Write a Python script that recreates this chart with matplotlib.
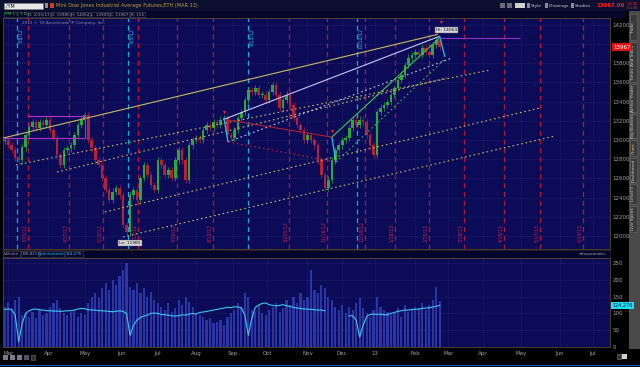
import numpy as np
import matplotlib
matplotlib.use("Agg")
import matplotlib.pyplot as plt
from matplotlib.patches import Rectangle
import matplotlib.transforms as mtransforms

W, H = 640, 367
plt.rcParams.update({"font.family": "DejaVu Sans", "font.size": 4.5})

BG = "#0c0b58"
GRIDC = "#34347a"
UP = "#2aa83a"
DOWN = "#b3203a"
CYAN = "#28c4ea"
KHAKI = "#c8b860"
LAV = "#c8c8f0"
MAG = "#b030c8"
REDLINE = "#b01838"
TXT = "#a0a0a0"
SPINE = "#5a4630"

# ---------------------------------------------------------------- data
# 2-day bars of /YM, Feb 2012 .. 25 Feb 2013
first_open = 12990
closes = [13000, 12950, 12895, 12815, 12790, 12925, 13050, 13135, 13185, 13125,
          13185, 13155, 13210, 13105, 13020, 12845, 12740, 12895, 12915, 12945,
          13050, 13155, 13210, 13260, 13000, 12915, 12790, 12740, 12605, 12480,
          12375, 12460, 12500, 12425, 12115, 12040, 12425, 12480, 12375, 12605,
          12740, 12635, 12530, 12480, 12790, 12740, 12635, 12685, 12605, 12790,
          12895, 12790, 12585, 12945, 13000, 13020, 13000, 13105, 13155, 13125,
          13185, 13155, 13210, 13230, 13050, 13020, 13105, 13230, 13290, 13415,
          13520, 13500, 13540, 13470, 13470, 13415, 13500, 13570, 13470, 13335,
          13415, 13470, 13365, 13230, 13155, 13105, 13000, 13050, 13000, 12945,
          12790, 12635, 12500, 12585, 12790, 12895, 12945, 13000, 13020, 13125,
          13210, 13155, 13210, 13185, 13050, 12945, 12845, 13290, 13335, 13365,
          13395, 13470, 13540, 13625, 13675, 13780, 13855, 13885, 13915, 13885,
          13960, 13915, 13885, 13990, 14040, 13967]
volume = [120, 135, 110, 140, 150, 95, 100, 90, 105, 85, 110, 95, 100,
          120, 130, 140, 115, 100, 95, 105, 110, 90, 100, 95,
          130, 150, 160, 145, 175, 190, 170, 200, 185, 210, 230,
          250, 180, 170, 190, 160, 175, 150, 165, 140, 130,
          120, 110, 130, 105, 115, 140, 125, 150, 135, 120, 100,
          95, 90, 80, 85, 70, 75, 80, 65, 90, 100,
          110, 130, 120, 160, 150, 110, 105, 125, 100, 95,
          110, 120, 130, 105, 115, 140, 125, 150, 130, 160, 140, 150,
          230, 170, 160, 185, 175, 150, 140, 120, 110, 125, 100,
          120, 110, 130, 145, 115, 100, 90, 110, 150,
          120, 110, 105, 95, 100, 115, 90, 125, 105, 110, 120,
          115, 130, 110, 125, 140, 180, 137]
open_int = [112, 113, 112, 95, 15, 70, 100, 108, 112, 113,
            111, 110, 108, 108, 107, 107, 106, 107, 108, 108,
            110, 113, 115, 114, 111, 110, 110, 108, 108, 107,
            106, 105, 106, 108, 106, 100, 35, 65, 80, 88,
            92, 95, 100, 101, 100, 97, 96, 95, 93, 92,
            93, 96, 95, 98, 100, 98, 103, 104, 106, 108,
            110, 112, 114, 116, 118, 117, 120, 119, 117, 95,
            35, 85, 118, 125, 130, 131, 126, 124, 122, 124,
            126, 123, 121, 118, 116, 115, 113, 113, 112, 111,
            110, 110, 108, np.nan, np.nan, np.nan, np.nan, np.nan, np.nan, 93,
            93, 80, 30, 65, 90, 97, 98, 97, 98, 96,
            96, 100, 103, 106, 108, 110, 110, 112, 112, 113,
            115, 116, 117, 119, 121, 124.3]

month_pos = [2, 25, 46, 67, 88, 110, 131, 151, 174, 194, 213, 236, 255, 275, 297, 319, 338]
month_lbl = ["Mar", "Apr", "May", "Jun", "Jul", "Aug", "Sep", "Oct", "Nov", "Dec",
             "13", "Feb", "Mar", "Apr", "May", "Jun", "Jul"]
red_days = [13.4, 36.9, 56.5, 76.6, 99, 119.7, 163.4, 185.2, 207, 224.3, 243.8,
            264, 287, 307.7, 332.3]
red_lbl = ["3/15/12", "4/17/12", "5/15/12", "6/13/12", "7/16/12", "8/13/12",
           "10/15/12", "11/16/12", "12/18/12", "1/18/13", "2/15/13", "3/18/13",
           "4/18/13", "5/17/13", "6/24/13"]
cyan_days = [7, 70.8, 139.8, 202.4]
cyan_lbl = ["3/6/12", "6/5/12", "9/13/12", "12/12/12"]
price_ticks = list(range(12000, 14201, 200))
price_lbl = ["" if p == 14000 else str(p) for p in price_ticks]
vol_ticks = [0, 50, 100, 150, 200, 250]

# drawings (day, price)
yellow_line = [(-1, 13020), (249, 14100)]
white_line = [(126, 13215), (250, 14080)]
green_line = [(188, 13030), (250, 14064)]
red_line = [(126, 13215), (188, 13030)]
red_dots = [(128.3, 12980), (190.4, 12770)]
white_dots = [(128.3, 12980), (257, 13853)]
green_dots = [(190.4, 12770), (253, 13842)]
khaki_dots = [[(6.5, 12740), (279, 13728)],
              [(30, 12666), (254, 13645)],
              [(57.6, 12250), (307.6, 13333)],
              [(68, 11990), (316.2, 13041)]]
cyan_legs = [[(126, 13230), (128.3, 12980)],
             [(188, 13030), (190.4, 12770)],
             [(250, 14080), (253, 13864)]]
pivot_marks = [(126, 13290), (188, 13093), (251, 14225)]
box_top, box_bot = 13250, 13020
box_x = (13.4, 46.1)
peak_line = [(250, 14064), (296, 14064)]

# ---------------------------------------------------------------- figure
fig = plt.figure(figsize=(W / 100, H / 100), dpi=100, facecolor="#000000")


def frac(x0, y0, x1, y1):
    return [x0 / W, 1 - y1 / H, (x1 - x0) / W, (y1 - y0) / H]


ui = fig.add_axes([0, 0, 1, 1], zorder=0)
ui.set_xlim(0, W); ui.set_ylim(H, 0); ui.axis("off")

# top bar / info bar
ui.add_patch(Rectangle((0, 0), W, 11, fc="#0b1030", ec="none"))
ui.add_patch(Rectangle((0, 11), 626, 7, fc="#04072a", ec="none"))
ui.add_patch(Rectangle((4, 2.5), 39, 6, fc="#e8e8e8", ec="#808080", lw=0.4))
ui.text(6, 5.7, "/YM", color="#101010", fontsize=3.4, va="center")
ui.add_patch(Rectangle((45, 3), 3, 5, fc="#909090", ec="none"))
ui.add_patch(Rectangle((50, 3), 4, 5, fc="#d04020", ec="none"))
ui.text(56, 5.7, "Mini Dow Jones Industrial Average Futures,ETH (MAR 13)",
        color="#c09a3a", fontsize=3.6, va="center")
info = [("/YM 1 y 1 D", 4, 27, "#30d040"), ("D: 2/25/13", 28, 50, TXT),
        ("O: 13985", 51, 70, TXT), ("H: 14064", 71, 90, TXT),
        ("L: 13909", 91, 109, TXT), ("C: 13967", 110, 129, TXT),
        ("R: 155", 130, 145, TXT)]
for t, a, b, c in info:
    ui.add_patch(Rectangle((a, 11.6), b - a, 5.6, fc="none", ec="#454560", lw=0.4))
    ui.text((a + b) / 2, 14.5, t, color=c, fontsize=3.0, va="center", ha="center")

for xx in (500, 507):
    ui.add_patch(Rectangle((xx, 3), 5, 5, fc="#6a6a78", ec="none"))
ui.add_patch(Rectangle((515, 3), 10, 5, fc="#d0d0d0", ec="none"))
for t, xx in (("Style", 531), ("Drawings", 549), ("Studies", 575)):
    ui.add_patch(Rectangle((xx - 4, 3), 3, 5, fc="#8a8a9a", ec="none"))
    ui.text(xx, 5.7, t, color="#c8c8c8", fontsize=3.2, va="center")
ui.text(625, 5.7, "13967.00", color="#ff2020", fontsize=3.9, va="center",
        ha="right", weight="bold")
ui.text(627, 3.8, "-14.00", color="#ff3030", fontsize=2.4, va="center")
ui.text(627, 8, "-0.10%", color="#ff3030", fontsize=2.4, va="center")

# right tab strip
ui.add_patch(Rectangle((629, 11), 11, 338, fc="#4a4a4a", ec="none"))
tabs = [("Trade", 14, 40), ("Times And Sales", 42, 82), ("Active Trader", 84, 112),
        ("Big Buttons", 114, 138), ("Chart", 140, 156), ("Dashboard", 158, 182),
        ("Level II", 184, 204), ("Live Speak", 206, 232)]
for t, a, b in tabs:
    ui.add_patch(Rectangle((629.5, a), 7.5, b - a, fc="#3a3a3a", ec="#6a6a6a", lw=0.4))
    ui.text(633.3, (a + b) / 2, t, rotation=90, ha="center", va="center",
            fontsize=3.1, color="#e8d040" if t == "Chart" else "#c8c8c8")

# volume header strip
ui.add_patch(Rectangle((3, 250), 607, 8, fc="#05052c", ec="#3a3030", lw=0.4))
hdr = [("Volume", 3, 20, TXT), ("136,821", 21, 38, TXT),
       ("OpenInterest", 39, 64, CYAN), ("124,276", 65, 83, CYAN)]
for t, a, b, c in hdr:
    ui.add_patch(Rectangle((a, 250.8), b - a, 6.4, fc="none", ec="#4a4a5a", lw=0.4))
    ui.text((a + b) / 2, 254, t, color=c, fontsize=2.9, va="center", ha="center")
ui.text(607, 254, "<thousands>", color=TXT, fontsize=3.1, va="center", ha="right")

# bottom toolbar
for i, xx in enumerate((5, 12, 19, 26)):
    ui.add_patch(Rectangle((xx - 2.5, 354.5), 5, 5, fc="#7a7a8a" if i < 3 else "#505060", ec="none"))
ui.add_patch(Rectangle((31, 354.5), 4, 5, fc="#303030", ec="#707070", lw=0.4))
ui.add_patch(Rectangle((617, 354), 4, 5, fc="#303030", ec="#808080", lw=0.4))
ui.add_patch(Rectangle((622, 354), 5, 5, fc="#d0d0d0", ec="none"))
ui.add_patch(Rectangle((0, 364.5), W, 1.5, fc="#1a5ac8", ec="none"))

# ---------------------------------------------------------------- price panel
ax = fig.add_axes(frac(3, 17.5, 610, 249), zorder=1)
ax.set_facecolor(BG)
ax.set_xlim(-1, 347.9)
ax.set_ylim(11865, 14275)

c = np.array(closes, dtype=float)
o = np.r_[first_open, c[:-1]]
x = np.arange(len(c)) * 2
lo_b = np.minimum(o, c)
hi_b = np.maximum(o, c)
cols = np.where(c >= o, UP, DOWN)
ax.vlines(x, lo_b - 35, hi_b + 35, colors=cols, lw=0.5, zorder=3)
ax.bar(x, np.maximum(hi_b - lo_b, 12), width=1.5, bottom=lo_b, color=cols,
       lw=0, zorder=3)

for p in price_ticks:
    ax.axhline(p, color=GRIDC, lw=0.5, ls=(0, (1, 2)), zorder=1)
for m in month_pos:
    ax.axvline(m, color=GRIDC, lw=0.5, ls=(0, (1, 2)), zorder=1)

blend = mtransforms.blended_transform_factory(ax.transData, ax.transAxes)
for d, t in zip(red_days, red_lbl):
    ax.axvline(d, color=REDLINE, lw=0.9, ls=(0, (4, 3)), zorder=2)
    ax.text(d - 0.6, 0.03, t, rotation=90, ha="right", va="bottom",
            color="#d02040", fontsize=3.3, transform=blend, zorder=4)
for d, t in zip(cyan_days, cyan_lbl):
    ax.axvline(d, color="#1aa8d8", lw=0.9, ls=(0, (4, 3)), zorder=2)
    ax.text(d + 0.6, 0.955, t, rotation=90, ha="left", va="top",
            color=CYAN, fontsize=3.3, transform=blend, zorder=4)

ax.text(10, 14215, "2012 \u00a9 TD Ameritrade IP Company, Inc.", color="#8a8a9a",
        fontsize=3.0, va="center", zorder=5)


def seg(pts, **kw):
    (x0, y0), (x1, y1) = pts
    ax.plot([x0, x1], [y0, y1], zorder=4, solid_capstyle="butt", **kw)


dots = (0, (1.5, 2.5))
for pts in khaki_dots:
    seg(pts, color=KHAKI, lw=0.8, ls=dots)
seg(white_dots, color=LAV, lw=0.8, ls=dots)
seg(green_dots, color="#30c040", lw=0.8, ls=dots)
seg(red_dots, color="#c02040", lw=0.8, ls=dots)
seg(yellow_line, color=KHAKI, lw=0.8)
seg(white_line, color=LAV, lw=0.8)
seg(green_line, color="#40c840", lw=0.8)
seg(red_line, color="#b02030", lw=0.8)
for pts in cyan_legs:
    seg(pts, color=CYAN, lw=0.9)
seg(peak_line, color="#9030c8", lw=0.8)
ax.plot([box_x[0], box_x[1]], [box_top, box_top], color=MAG, lw=0.8, zorder=4)
ax.plot([-1, box_x[1]], [box_bot, box_bot], color=MAG, lw=0.8, zorder=4)
ax.plot([box_x[1], box_x[1]], [box_bot, box_top], color=MAG, lw=0.8, zorder=4)
ax.scatter([p[0] for p in pivot_marks], [p[1] for p in pivot_marks], marker="v",
           s=5, color="#ff2020", zorder=6, linewidths=0)

lab = dict(fontsize=3.2, color="#101010", ha="center", va="center", zorder=7,
           bbox=dict(boxstyle="square,pad=0.25", fc="#d8d8d8", ec="#606060", lw=0.3))
ax.text(254, 14145, "Hi: 14064", **lab)
ax.text(72, 11927, "Lo: 11985", **lab)

ax.yaxis.tick_right()
ax.set_yticks(price_ticks)
ax.set_yticklabels(price_lbl)
ax.set_xticks(month_pos)
ax.tick_params(axis="y", length=0, pad=2, labelsize=4, labelcolor=TXT)
ax.tick_params(axis="x", length=0, labelbottom=False)
for s in ax.spines.values():
    s.set_color(SPINE); s.set_linewidth(0.6)
ax.annotate("13967", xy=(1.0, c[-1]), xycoords=("axes fraction", "data"),
            xytext=(2.5, 0), textcoords="offset points", ha="left", va="center",
            fontsize=4, color="white", annotation_clip=False, zorder=8,
            bbox=dict(boxstyle="square,pad=0.25", fc="#e01010", ec="none"))

# ---------------------------------------------------------------- volume panel
vx = fig.add_axes(frac(3, 258, 610, 347), zorder=1)
vx.set_facecolor(BG)
vx.set_xlim(-1, 347.9)
vx.set_ylim(0, 265)
vx.bar(x, volume, width=1.25, color="#2a36a6", lw=0, zorder=2)
vx.plot(x, open_int, color="#3cc8f0", lw=0.8, zorder=3)
for v in vol_ticks[1:]:
    vx.axhline(v, color=GRIDC, lw=0.5, ls=(0, (1, 2)), zorder=1)
for m in month_pos:
    vx.axvline(m, color=GRIDC, lw=0.5, ls=(0, (1, 2)), zorder=1)
vx.yaxis.tick_right()
vx.set_yticks(vol_ticks)
vx.set_xticks(month_pos)
vx.set_xticklabels(month_lbl)
vx.tick_params(axis="y", length=0, pad=2, labelsize=4, labelcolor=TXT)
vx.tick_params(axis="x", length=0, pad=3, labelsize=4, labelcolor=TXT)
for s in vx.spines.values():
    s.set_color(SPINE); s.set_linewidth(0.6)
vx.annotate("124,276", xy=(1.0, open_int[-1]), xycoords=("axes fraction", "data"),
            xytext=(1.5, 0), textcoords="offset points", ha="left", va="center",
            fontsize=3.6, color="#04204a", annotation_clip=False, zorder=8,
            bbox=dict(boxstyle="square,pad=0.25", fc="#20e0f0", ec="none"))

fig.savefig("out.png", dpi=100, facecolor=fig.get_facecolor())
